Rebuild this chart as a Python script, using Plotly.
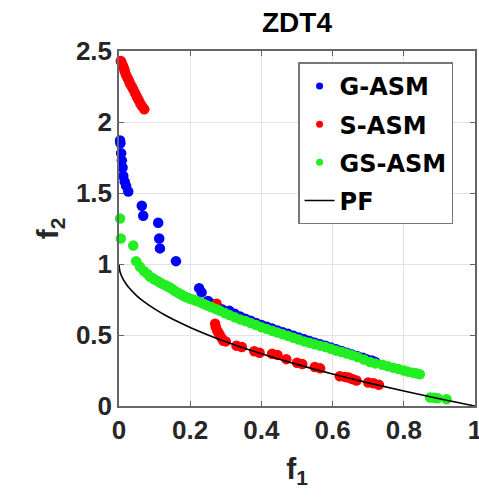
import plotly.graph_objects as go

# G-ASM
g_x = [0.003, 0.004, 0.006, 0.008, 0.010, 0.012, 0.016, 0.020, 0.026, 0.064, 0.068, 0.110, 0.113,
       0.115, 0.160, 0.225, 0.232, 0.25, 0.26, 0.28, 0.29, 0.31, 0.325, 0.34, 0.355, 0.37, 0.385, 0.40,
       0.415, 0.43, 0.445, 0.46, 0.475, 0.49, 0.505, 0.52, 0.535, 0.55, 0.565, 0.58, 0.595, 0.61,
       0.625, 0.64, 0.655, 0.67, 0.685, 0.695, 0.71, 0.72]
g_y = [1.87, 1.85, 1.78, 1.73, 1.68, 1.62, 1.58, 1.55, 1.51, 1.41, 1.34, 1.29, 1.18,
       1.11, 1.02, 0.83, 0.80, 0.74, 0.72, 0.69, 0.68, 0.67, 0.65, 0.63, 0.615, 0.60, 0.585, 0.57,
       0.558, 0.545, 0.532, 0.52, 0.508, 0.495, 0.482, 0.47, 0.458, 0.445, 0.435, 0.425, 0.412, 0.40,
       0.388, 0.375, 0.362, 0.35, 0.34, 0.33, 0.32, 0.31]

# S-ASM
s_x = [0.005, 0.007, 0.010, 0.012, 0.015, 0.017, 0.020, 0.024, 0.028, 0.031, 0.036, 0.040, 0.045,
       0.050, 0.055, 0.060, 0.065, 0.071,
       0.274, 0.270, 0.272, 0.276, 0.280, 0.283, 0.288, 0.293, 0.30, 0.33, 0.345, 0.38, 0.395,
       0.43, 0.445, 0.47, 0.50, 0.515, 0.55, 0.565,
       0.62, 0.635, 0.645, 0.655, 0.667, 0.70, 0.715, 0.73]
s_y = [2.43, 2.42, 2.40, 2.39, 2.37, 2.35, 2.33, 2.31, 2.29, 2.27, 2.25, 2.23, 2.205,
       2.18, 2.155, 2.13, 2.11, 2.09,
       0.72, 0.58, 0.555, 0.53, 0.515, 0.50, 0.48, 0.46, 0.455, 0.425, 0.415, 0.385, 0.375,
       0.368, 0.36, 0.33, 0.305, 0.295, 0.275, 0.265,
       0.21, 0.205, 0.20, 0.19, 0.18, 0.165, 0.16, 0.15]

# GS-ASM
gs_x = [0.003, 0.005, 0.04, 0.048, 0.059, 0.07, 0.08, 0.087, 0.095, 0.10, 0.108, 0.115, 0.122, 0.13,
        0.137, 0.143, 0.15, 0.157, 0.164, 0.171, 0.178, 0.185, 0.193, 0.2, 0.21, 0.218, 0.228, 0.237,
        0.248, 0.26, 0.272, 0.284, 0.297, 0.31, 0.325, 0.34, 0.355, 0.37, 0.385, 0.40, 0.415, 0.43,
        0.445, 0.46, 0.475, 0.49, 0.505, 0.52, 0.535, 0.55, 0.565, 0.58, 0.595, 0.61, 0.625, 0.64,
        0.655, 0.67, 0.688, 0.705, 0.72, 0.74, 0.755, 0.77, 0.785, 0.80, 0.812, 0.825, 0.835, 0.845,
        0.874, 0.885, 0.895, 0.92]
gs_y = [1.32, 1.18, 1.13, 1.02, 0.98, 0.95, 0.93, 0.91, 0.90, 0.89, 0.88, 0.87, 0.86, 0.85,
        0.842, 0.835, 0.822, 0.81, 0.80, 0.79, 0.78, 0.77, 0.762, 0.755, 0.748, 0.74, 0.73, 0.72,
        0.708, 0.695, 0.683, 0.67, 0.655, 0.64, 0.625, 0.61, 0.598, 0.585, 0.57, 0.555, 0.543, 0.53,
        0.518, 0.505, 0.493, 0.48, 0.468, 0.455, 0.445, 0.435, 0.425, 0.415, 0.403, 0.39, 0.38, 0.37,
        0.358, 0.345, 0.328, 0.31, 0.30, 0.29, 0.28, 0.27, 0.26, 0.25, 0.242, 0.235, 0.23, 0.224,
        0.06, 0.058, 0.055, 0.047]

# PF (true Pareto front)
pf_x = [0, 0.002, 0.005, 0.01, 0.02, 0.03, 0.05, 0.07, 0.1, 0.13, 0.16, 0.2, 0.25, 0.3, 0.35, 0.4,
        0.5, 0.6, 0.7, 0.8, 0.9, 1.0]
pf_y = [1.0, 0.955, 0.929, 0.9, 0.859, 0.827, 0.776, 0.735, 0.684, 0.639, 0.6, 0.553, 0.5, 0.452,
        0.408, 0.368, 0.293, 0.225, 0.163, 0.106, 0.051, 0.0]

ticks_x = [0, 0.2, 0.4, 0.6, 0.8, 1]
ticks_y = [0, 0.5, 1, 1.5, 2, 2.5]
tick_text_x = ["0", "0.2", "0.4", "0.6", "0.8", "1"]
tick_text_y = ["0", "0.5", "1", "1.5", "2", "2.5"]

FONT = "Liberation Sans, Arial, sans-serif"
LFONT = "DejaVu Sans, Liberation Sans, sans-serif"
series = [
    ("G-ASM", g_x, g_y, "#0000ff"),
    ("S-ASM", s_x, s_y, "#ff0000"),
    ("GS-ASM", gs_x, gs_y, "#22ee22"),
]

fig = go.Figure()
for name, xs, ys, col in series:
    fig.add_trace(go.Scatter(x=xs, y=ys, mode="markers", marker=dict(color=col, size=10.5, line=dict(width=0)),
                             showlegend=False, cliponaxis=False))
fig.add_trace(go.Scatter(x=pf_x, y=pf_y, mode="lines", line=dict(color="black", width=1.6, shape="spline"),
                         showlegend=False, cliponaxis=False))
for name, xs, ys, col in series:
    fig.add_trace(go.Scatter(x=[None], y=[None], mode="markers", name=name,
                             marker=dict(color=col, size=7), legendgroup=name))
fig.add_trace(go.Scatter(x=[None], y=[None], mode="lines", name="PF",
                         line=dict(color="black", width=1.6), legendgroup="PF"))

axis_common = dict(
    showline=True, linecolor="#666666", linewidth=1.5, mirror="ticks",
    ticks="inside", ticklen=5, tickcolor="#666666",
    showgrid=True, gridcolor="#e3e3e3", gridwidth=1, zeroline=False,
    ticklabeloverflow="allow", automargin=False,
    tickfont=dict(family=FONT, size=26, color="#262626", weight="bold"),
)
fig.update_xaxes(range=[0, 1], tickvals=ticks_x, ticktext=tick_text_x,
                 title=dict(text="f<sub>1</sub>", font=dict(family=FONT, size=30, color="#262626", weight="bold"),
                            standoff=14),
                 **axis_common)
fig.update_yaxes(range=[0, 2.5], tickvals=ticks_y, ticktext=tick_text_y,
                 title=dict(text="f<sub>2</sub>", font=dict(family=FONT, size=30, color="#262626", weight="bold"),
                            standoff=8),
                 **axis_common)

fig.update_layout(
    width=479, height=503,
    margin=dict(l=119, r=4, t=51, b=97),
    paper_bgcolor="white", plot_bgcolor="white",
    title=dict(text="ZDT4", x=0.62, xanchor="center", y=0.955, yanchor="middle",
               font=dict(family=FONT, size=28, color="black", weight="bold")),
    legend=dict(x=0.503, y=0.968, xanchor="left", yanchor="top",
                bgcolor="white", bordercolor="#777777", borderwidth=1.5,
                font=dict(family=LFONT, size=24, color="black", weight="bold"),
                tracegroupgap=4, itemwidth=30),
    showlegend=True,
)

fig.write_html("out.html")
